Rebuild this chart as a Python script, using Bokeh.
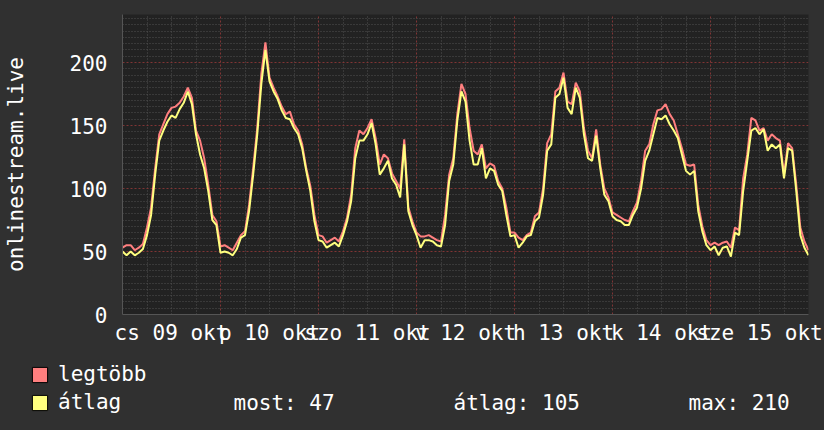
from bokeh.plotting import figure
from bokeh.models import (FixedTicker, Range1d, Legend, LegendItem, Label,
                          ColumnDataSource, AllLabels)
from bokeh.embed import file_html
from bokeh.resources import INLINE

FONT = "DejaVu Sans Mono"
FS = "21px"
BG = "#303030"

# ---- data (hourly) ----
day_labels = ["cs 09 okt", "p 10 okt", "szo 11 okt", "v 12 okt",
              "h 13 okt", "k 14 okt", "sze 15 okt"]

avg_d0 = [50, 47, 50, 47, 49, 52, 63, 79, 111, 138, 146, 153, 158, 156, 163, 168, 177, 167, 143, 127, 116, 98, 75, 71]
avg_d1 = [49, 50, 49, 47, 52, 61, 63, 82, 111, 143, 183, 210, 185, 177, 171, 162, 156, 155, 148, 143, 132, 114, 98, 74]
avg_d2 = [59, 58, 53, 55, 57, 54, 63, 74, 90, 124, 138, 138, 143, 152, 135, 111, 116, 122, 108, 103, 93, 135, 82, 71]
avg_d3 = [63, 53, 59, 59, 58, 55, 54, 71, 106, 119, 154, 177, 169, 138, 119, 119, 132, 108, 116, 114, 103, 98, 79, 62]
avg_d4 = [63, 53, 57, 62, 63, 74, 77, 95, 130, 135, 172, 175, 188, 164, 159, 180, 172, 143, 124, 122, 142, 116, 95, 90]
avg_d5 = [78, 75, 74, 71, 71, 79, 85, 100, 122, 130, 143, 156, 155, 158, 151, 146, 140, 127, 114, 111, 114, 82, 66, 55]
avg_d6 = [51, 54, 47, 53, 54, 46, 65, 63, 98, 122, 146, 148, 143, 147, 130, 135, 132, 135, 108, 132, 130, 98, 63, 53]
avg_end = [47]

max_d0 = [53, 55, 55, 51, 53, 56, 69, 85, 116, 143, 151, 159, 164, 165, 168, 173, 180, 172, 146, 138, 124, 103, 79, 74]
max_d1 = [54, 55, 53, 51, 57, 63, 66, 87, 116, 148, 191, 216, 188, 180, 173, 165, 159, 161, 151, 146, 135, 116, 102, 79]
max_d2 = [63, 62, 57, 59, 61, 58, 66, 77, 95, 132, 146, 143, 148, 155, 140, 119, 127, 124, 112, 106, 100, 139, 85, 74]
max_d3 = [65, 62, 62, 63, 61, 59, 58, 79, 111, 124, 159, 183, 175, 148, 130, 127, 135, 116, 120, 118, 106, 100, 85, 65]
max_d4 = [65, 61, 59, 63, 65, 78, 81, 100, 136, 143, 177, 180, 192, 169, 167, 184, 177, 148, 130, 124, 147, 119, 100, 93]
max_d5 = [81, 79, 77, 75, 74, 82, 89, 106, 130, 135, 151, 162, 163, 167, 159, 154, 143, 132, 119, 118, 119, 87, 70, 59]
max_d6 = [55, 57, 55, 57, 58, 53, 69, 67, 108, 127, 156, 154, 146, 148, 138, 143, 140, 138, 111, 136, 132, 103, 69, 58]
max_end = [51]

avg = avg_d0 + avg_d1 + avg_d2 + avg_d3 + avg_d4 + avg_d5 + avg_d6 + avg_end
mx = max_d0 + max_d1 + max_d2 + max_d3 + max_d4 + max_d5 + max_d6 + max_end
hours = list(range(len(avg)))

y_ticks = [0, 50, 100, 150, 200]
series_names = ["legtöbb", "átlag"]
stat_texts = ["most: 47", "átlag: 105", "max: 210"]

# ---- chart ----
p = figure(width=824, height=350, output_backend="svg", toolbar_location=None,
           x_range=Range1d(0, 168), y_range=Range1d(0, 300 * 50 / 63),
           min_border_left=122, min_border_right=16, min_border_top=14,
           min_border_bottom=36,
           background_fill_color="#222222", border_fill_color=BG,
           outline_line_color=None)

p.xgrid.ticker = FixedTicker(ticks=list(range(24, 168, 24)),
                             minor_ticks=[h for h in range(6, 168, 6) if h % 24])
p.ygrid.ticker = FixedTicker(ticks=[50, 100, 150, 200],
                             minor_ticks=[v for v in range(5, 240, 5) if v % 50])
for g in (p.xgrid, p.ygrid):
    g.grid_line_color = "#803434"
    g.grid_line_dash = "2 2"
    g.grid_line_width = 1
    g.minor_grid_line_color = "#505050"
    g.minor_grid_line_dash = "1 2"
    g.minor_grid_line_width = 1

p.line(hours, mx, line_color="#ff7f7f", line_width=2)
p.line(hours, avg, line_color="#ffff7f", line_width=2)

p.xaxis.ticker = FixedTicker(ticks=[12 + 24 * i for i in range(7)])
p.xaxis.major_label_overrides = {12 + 24 * i: lab for i, lab in enumerate(day_labels)}
p.xaxis.major_label_policy = AllLabels()
p.yaxis.ticker = FixedTicker(ticks=y_ticks)
p.yaxis.axis_label = "onlinestream.live"
for ax in (p.xaxis[0], p.yaxis[0]):
    ax.major_label_text_font = FONT
    ax.major_label_text_font_size = FS
    ax.major_label_text_color = "white"
    ax.major_tick_in = 0
    ax.major_tick_out = 0
    ax.minor_tick_in = 0
    ax.minor_tick_out = 0
    ax.axis_line_color = "#555555"
p.yaxis.major_label_standoff = 15
p.xaxis.major_label_standoff = 6
p.yaxis.axis_label_text_font = FONT
p.yaxis.axis_label_text_font_size = FS
p.yaxis.axis_label_text_font_style = "normal"
p.yaxis.axis_label_text_color = "white"
p.yaxis.axis_label_standoff = 39

# ---- legend strip (separate root, so its frame is not aligned to the chart) ----
q = figure(width=824, height=80, output_backend="svg", toolbar_location=None,
           x_range=Range1d(0, 824), y_range=Range1d(0, 80),
           x_axis_location=None, y_axis_location=None,
           min_border_left=0, min_border_right=0, min_border_top=0, min_border_bottom=0,
           background_fill_color=BG, border_fill_color=BG, outline_line_color=None)
q.xgrid.visible = False
q.ygrid.visible = False

nan = float("nan")
hidden = dict(l=[nan], r=[nan], b=[nan], t=[nan])
r_max = q.quad(left="l", right="r", bottom="b", top="t", source=ColumnDataSource(hidden),
               fill_color="#ff7f7f", line_color="black")
r_avg = q.quad(left="l", right="r", bottom="b", top="t", source=ColumnDataSource(hidden),
               fill_color="#ffff7f", line_color="black")
legend = Legend(items=[LegendItem(label=series_names[0], renderers=[r_max]),
                       LegendItem(label=series_names[1], renderers=[r_avg])],
                location=(30, 16), orientation="vertical",
                glyph_width=19, glyph_height=19, label_standoff=9,
                label_height=15, spacing=4, padding=0, margin=0,
                border_line_alpha=0, background_fill_alpha=0,
                label_text_font=FONT, label_text_font_size=FS,
                label_text_color="white")
q.add_layout(legend, "center")

for txt, xs in zip(stat_texts, [233, 453, 688]):
    q.add_layout(Label(x=xs, y=28, text=txt, text_baseline="middle",
                       text_font=FONT, text_font_size=FS, text_color="white"))

html = file_html([p, q], INLINE)
html = html.replace("<head>", "<head><style>html,body{background:#303030;}</style>", 1)
open("out.html", "w").write(html)
